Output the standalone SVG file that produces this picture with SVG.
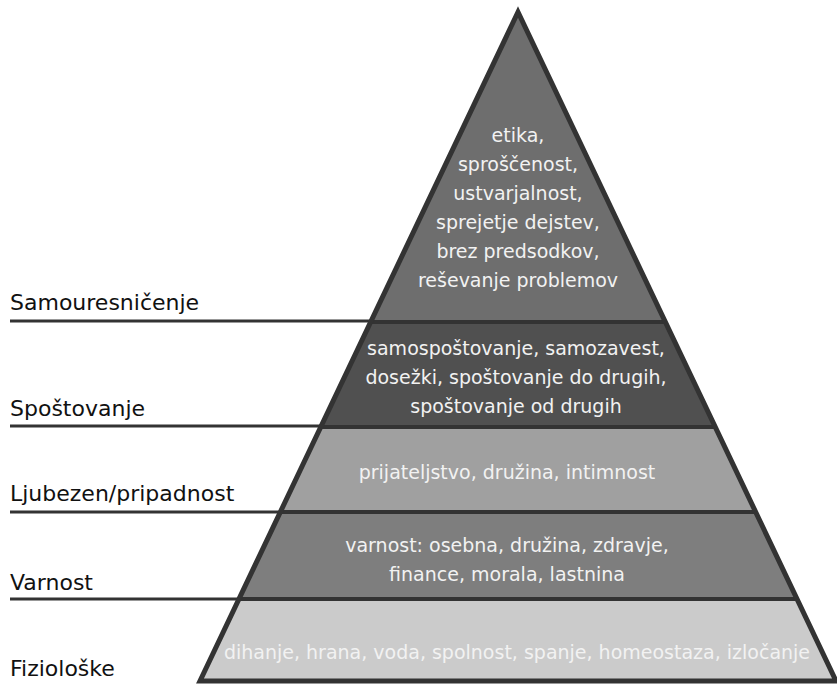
<svg xmlns="http://www.w3.org/2000/svg" width="837" height="685" viewBox="0 0 837 685">
<style>
.band{stroke:none}
.in{font-family:"DejaVu Sans",Verdana,sans-serif;font-size:19px;fill:#f2f2f2;text-anchor:middle}
.lbl{font-family:"DejaVu Sans",Verdana,sans-serif;font-size:22px;fill:#111}
.sep{stroke:#333;stroke-width:4;fill:none}
.lead{stroke:#333;stroke-width:3;fill:none}
</style>
<rect width="837" height="685" fill="#fff"/>
<g id="samouresnicenje">
<polygon class="band" points="518,12 665.5,322 370.5,322" fill="#6e6e6e"/>
<text class="in" x="518" y="142">etika,</text>
<text class="in" x="518" y="171">sproščenost,</text>
<text class="in" x="518" y="200">ustvarjalnost,</text>
<text class="in" x="518" y="229">sprejetje dejstev,</text>
<text class="in" x="518" y="258">brez predsodkov,</text>
<text class="in" x="518" y="287">reševanje problemov</text>
<text class="lbl" x="10" y="310">Samouresničenje</text>
</g>
<g id="spostovanje">
<polygon class="band" points="370.5,322 665.5,322 715.5,427 320.5,427" fill="#505050"/>
<text class="in" x="516" y="355">samospoštovanje, samozavest,</text>
<text class="in" x="516" y="384">dosežki, spoštovanje do drugih,</text>
<text class="in" x="516" y="413">spoštovanje od drugih</text>
<text class="lbl" x="10" y="416">Spoštovanje</text>
</g>
<g id="ljubezen">
<polygon class="band" points="320.5,427 715.5,427 756,512 280,512" fill="#a0a0a0"/>
<text class="in" x="507" y="479">prijateljstvo, družina, intimnost</text>
<text class="lbl" x="10" y="501">Ljubezen/pripadnost</text>
</g>
<g id="varnost">
<polygon class="band" points="280,512 756,512 797.5,599 238.5,599" fill="#7e7e7e"/>
<text class="in" x="507" y="552">varnost: osebna, družina, zdravje,</text>
<text class="in" x="507" y="581">finance, morala, lastnina</text>
<text class="lbl" x="10" y="590">Varnost</text>
</g>
<g id="fizioloske">
<polygon class="band" points="238.5,599 797.5,599 836,681 200,681" fill="#cbcbcb"/>
<text class="in" x="517" y="659">dihanje, hrana, voda, spolnost, spanje, homeostaza, izločanje</text>
<text class="lbl" x="10" y="676">Fiziološke</text>
</g>
<g id="connectors">
<line class="lead" x1="10" y1="321" x2="370" y2="321"/>
<line class="lead" x1="10" y1="426" x2="321" y2="426"/>
<line class="lead" x1="10" y1="512" x2="280" y2="512"/>
<line class="lead" x1="10" y1="599" x2="239" y2="599"/>
<line class="sep" x1="370.5" y1="322" x2="665.5" y2="322"/>
<line class="sep" x1="320.5" y1="427" x2="715.5" y2="427"/>
<line class="sep" x1="280" y1="512" x2="756" y2="512"/>
<line class="sep" x1="238.5" y1="599" x2="797.5" y2="599"/>
<polygon points="518,12 836,681 200,681" fill="none" stroke="#333" stroke-width="5" stroke-linejoin="miter"/>
</g>
</svg>
